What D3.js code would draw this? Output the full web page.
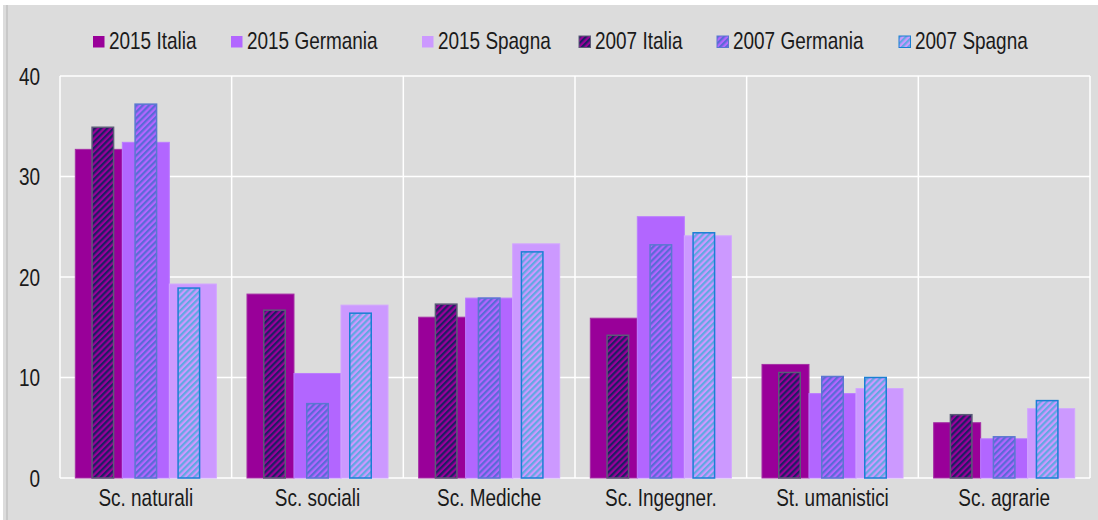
<!DOCTYPE html>
<html>
<head>
<meta charset="utf-8">
<script src="https://cdn.jsdelivr.net/npm/d3@7"></script>
<style>
  body { margin: 0; background: #ffffff; }
  svg { display: block; }
  text { font-family: "Liberation Sans", Arial, sans-serif; fill: #1a1a1a; }
</style>
</head>
<body>
<div id="chart"></div>
<script>
// values
var categories = ["Sc. naturali", "Sc. sociali", "Sc. Mediche", "Sc. Ingegner.", "St. umanistici", "Sc. agrarie"];
var italia2015   = [32.7, 18.3, 16.0, 15.9, 11.3, 5.5];
var germania2015 = [33.4, 10.4, 17.9, 26.0, 8.4, 3.9];
var spagna2015   = [19.3, 17.2, 23.3, 24.1, 8.9, 6.9];
var italia2007   = [34.9, 16.7, 17.3, 14.2, 10.5, 6.3];
var germania2007 = [37.2, 7.4, 17.9, 23.2, 10.1, 4.1];
var spagna2007   = [18.9, 16.4, 22.5, 24.4, 10.0, 7.7];
var yTicks = [0, 10, 20, 30, 40];
var seriesNames = ["2015 Italia", "2015 Germania", "2015 Spagna", "2007 Italia", "2007 Germania", "2007 Spagna"];

var width = 1098, height = 520;
var plotLeft = 60, plotRight = 1090, plotTop = 76, plotBottom = 478;
var squeeze = 0.79; // narrow font look

var svg = d3.select('#chart').append('svg')
    .attr('width', width)
    .attr('height', height);

// background
svg.append('rect').attr('x', 3).attr('y', 5).attr('width', width - 3).attr('height', height - 5).attr('fill', '#dcdcdc');
svg.append('line').attr('x1', 7).attr('x2', 7).attr('y1', 5).attr('y2', height)
    .attr('stroke', '#b4b4b4').attr('stroke-width', 1);

// hatch patterns for the 2007 series
var hatch = [
    { id: 'h_it', bg: '#990099', fg: '#1e1e62', border: '#5c5c78' },
    { id: 'h_de', bg: '#b266ff', fg: '#5a6ad6', border: '#5a78d0' },
    { id: 'h_es', bg: '#cc99ff', fg: '#62a8e2', border: '#1a7fd4' }
];
var defs = svg.append('defs');
hatch.forEach(function(h) {
    var p = defs.append('pattern')
        .attr('id', h.id)
        .attr('patternUnits', 'userSpaceOnUse')
        .attr('width', 4.4).attr('height', 4.4)
        .attr('patternTransform', 'rotate(45)');
    p.append('rect').attr('width', 4.4).attr('height', 4.4).attr('fill', h.bg);
    p.append('rect').attr('width', 2.2).attr('height', 4.4).attr('fill', h.fg);
});

var x0 = d3.scaleBand().domain(categories).range([plotLeft, plotRight]).padding(0);
var xNew = d3.scaleBand().domain([0, 1, 2]).range([0, x0.bandwidth()]).paddingInner(0).paddingOuter(0.326);
var xOld = d3.scaleBand().domain([0, 1, 2]).range([0, x0.bandwidth()]).paddingInner(0.5).paddingOuter(0.746);
var y = d3.scaleLinear().domain([0, 40]).range([plotBottom, plotTop]);

// grid
var grid = svg.append('g');
grid.selectAll('.hg').data(yTicks).enter().append('line')
    .attr('x1', plotLeft).attr('x2', plotRight)
    .attr('y1', function(d) { return y(d); }).attr('y2', function(d) { return y(d); })
    .attr('stroke', '#ffffff').attr('stroke-width', 1.5);
var bounds = categories.map(function(c) { return x0(c); }).concat([plotRight]);
grid.selectAll('.vg').data(bounds).enter().append('line')
    .attr('x1', function(d) { return d; }).attr('x2', function(d) { return d; })
    .attr('y1', plotTop).attr('y2', plotBottom)
    .attr('stroke', '#ffffff').attr('stroke-width', 1.5);

// y tick labels
svg.selectAll('.yl').data(yTicks).enter().append('text')
    .attr('text-anchor', 'end')
    .attr('font-size', 24)
    .attr('transform', function(d) { return 'translate(40,' + (y(d) + 8.5) + ') scale(' + squeeze + ',1)'; })
    .text(function(d) { return d; });

// bars
var newSeries = [italia2015, germania2015, spagna2015];
var newColors = ['#990099', '#b266ff', '#cc99ff'];
var newBorders = ['#a530a5', '#bb7cff', '#d2a6ff'];
var oldSeries = [italia2007, germania2007, spagna2007];

var groups = svg.selectAll('.cat').data(categories).enter().append('g')
    .attr('transform', function(d) { return 'translate(' + x0(d) + ',0)'; });

groups.each(function(c, ci) {
    var g = d3.select(this);
    var rows = newSeries.map(function(s, si) { return { si: si, v: s[ci] }; });
    g.selectAll('.b15').data(rows).enter().append('rect')
        .attr('x', function(d) { return xNew(d.si); })
        .attr('width', xNew.bandwidth())
        .attr('y', function(d) { return y(d.v); })
        .attr('height', function(d) { return y(0) - y(d.v); })
        .attr('fill', function(d) { return newColors[d.si]; })
        .attr('stroke', function(d) { return newBorders[d.si]; })
        .attr('stroke-width', 1);
    var rows2 = oldSeries.map(function(s, si) { return { si: si, v: s[ci] }; });
    g.selectAll('.b07').data(rows2).enter().append('rect')
        .attr('x', function(d) { return xOld(d.si); })
        .attr('width', xOld.bandwidth())
        .attr('y', function(d) { return y(d.v); })
        .attr('height', function(d) { return y(0) - y(d.v); })
        .attr('fill', function(d) { return 'url(#' + hatch[d.si].id + ')'; })
        .attr('stroke', function(d) { return hatch[d.si].border; })
        .attr('stroke-width', 1.5);
});

// x labels
svg.selectAll('.xl').data(categories).enter().append('text')
    .attr('text-anchor', 'middle')
    .attr('font-size', 24)
    .attr('transform', function(d) { return 'translate(' + (x0(d) + x0.bandwidth() / 2) + ',506) scale(' + squeeze + ',1)'; })
    .text(function(d) { return d; });

// legend
var legendX = [93, 231, 422, 579, 717, 899];
var legend = svg.selectAll('.lg').data(seriesNames).enter().append('g')
    .attr('transform', function(d, i) { return 'translate(' + legendX[i] + ',36)'; });
legend.append('rect')
    .attr('width', 11.5).attr('height', 11.5)
    .attr('fill', function(d, i) { return i < 3 ? newColors[i] : 'url(#' + hatch[i - 3].id + ')'; })
    .attr('stroke', function(d, i) { return i < 3 ? 'none' : hatch[i - 3].border; })
    .attr('stroke-width', 1);
legend.append('text')
    .attr('font-size', 24)
    .attr('transform', 'translate(16,12.5) scale(' + squeeze + ',1)')
    .text(function(d) { return d; });
</script>
</body>
</html>
